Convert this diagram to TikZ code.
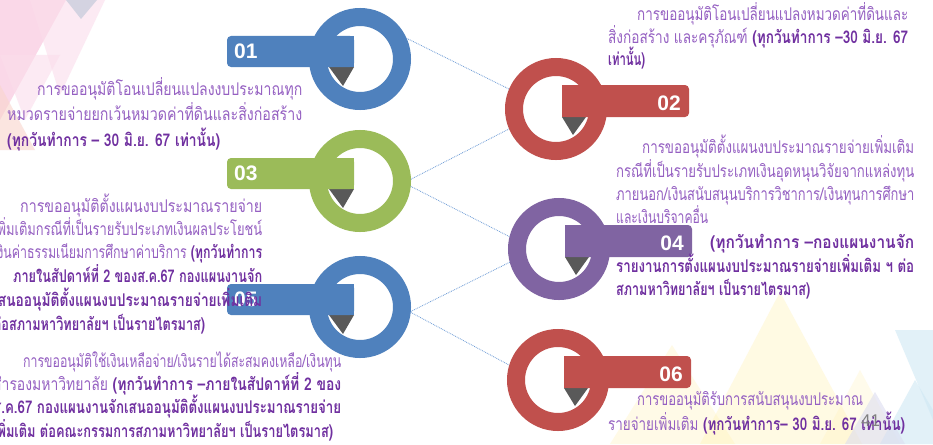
\documentclass[tikz,border=0pt]{standalone}
\usepackage{fontspec}
\usepackage{graphicx}
\newfontfamily\thai[Script=Thai]{Loma}
\newfontfamily\numfont{Liberation Sans}
\definecolor{cblue}{HTML}{4F81BD}
\definecolor{cred}{HTML}{C0504D}
\definecolor{cgreen}{HTML}{9BBB59}
\definecolor{cpurple}{HTML}{8064A2}
\definecolor{cwedge}{HTML}{595959}
\definecolor{ctext}{HTML}{9560C2}
\definecolor{cbold}{HTML}{7030A0}
\definecolor{cline}{HTML}{6C9BD6}
\definecolor{bgpink}{HTML}{F7BEDA}
\definecolor{bgpinkl}{HTML}{FBDDEB}
\definecolor{bggray}{HTML}{CBCEDD}
\definecolor{bgsalmon}{HTML}{F9D5CC}
\definecolor{bgyellow}{HTML}{FFF1B0}
\definecolor{bgblue}{HTML}{CFE8F4}
\definecolor{bglav}{HTML}{DCDDF0}
\tikzset{
 ring/.style={circle, minimum size=84pt, inner sep=0pt, line width=18pt},
 wedge/.style={fill=cwedge},
 num/.style={font=\numfont\bfseries\fontsize{21}{21}\selectfont, text=white, inner sep=0pt},
 txt/.style={font=\thai\fontsize{17.5}{20}\selectfont, text=ctext, inner sep=0pt, anchor=base west},
 conn/.style={draw=cline, densely dotted, line width=0.8pt},
 pagenum/.style={font=\numfont\fontsize{17}{17}\selectfont, text=gray, inner sep=0pt, anchor=base west},
 bgtri/.style={opacity=0.6},
}
\newcommand\fitw[2]{\resizebox{#1pt}{\height}{#2}}
\newcommand\boldpart[1]{{\bfseries\color{cbold}#1}}
\newcommand\ringL[5]{%
 \begin{scope}[shift={(#2,#3)}]
 \node[ring, draw=#4] (#1) at (0,0) {};
 \fill[wedge] (-31,8) -- (-6,8) -- (-17,27) -- cycle;
 \fill[#4, rounded corners=4pt] (-133,-23) rectangle (-6,8);
 \fill[#4] (-20,-23) rectangle (-6,8);
 \node[num, anchor=west] (#1n) at (-126,-7.5) {#5};
 \end{scope}}
\newcommand\ringR[5]{%
 \begin{scope}[shift={(#2,#3)}]
 \node[ring, draw=#4] (#1) at (0,0) {};
 \fill[wedge] (6,8) -- (30,8) -- (17,26) -- cycle;
 \fill[#4, rounded corners=4pt] (6,-24) rectangle (133,8);
 \fill[#4] (6,-24) rectangle (20,8);
 \node[num, anchor=east] (#1n) at (125,-6) {#5};
 \end{scope}}
\begin{document}
\begin{tikzpicture}[x=1pt,y=-1pt]
\useasboundingbox (0,0) rectangle (933,444);
\begin{scope}
\clip (0,0) rectangle (933,444);
\fill[white] (0,0) rectangle (933,444);
% background triangles, top left
\fill[bgpink, bgtri] (0,0) -- (66,0) -- (0,120) -- cycle;
\fill[bgpinkl, bgtri] (30,0) -- (105,0) -- (60,95) -- cycle;
\fill[bggray, opacity=0.8] (66,0) -- (97,0) -- (81,19) -- cycle;
\fill[bgpinkl, bgtri] (0,55) -- (60,55) -- (25,120) -- cycle;
\fill[bgsalmon, bgtri] (0,85) -- (35,150) -- (0,150) -- cycle;
% background triangles, bottom right
\fill[bgyellow, opacity=0.35] (700,444) -- (780,292) -- (862,444) -- cycle;
\fill[bgyellow, opacity=0.3] (610,444) -- (672,345) -- (735,444) -- cycle;
\fill[bgyellow, opacity=0.25] (820,444) -- (860,370) -- (900,444) -- cycle;
\fill[bgblue, opacity=0.6] (895,330) -- (933,330) -- (933,420) -- cycle;
\fill[bgblue, opacity=0.6] (880,444) -- (915,380) -- (933,410) -- (933,444) -- cycle;
\fill[bglav, opacity=0.6] (845,444) -- (875,392) -- (905,444) -- cycle;
% rings
\ringL{r1}{360}{59}{cblue}{01}
\ringL{r3}{360}{181}{cgreen}{03}
\ringL{r5}{360}{307}{cblue}{05}
\ringR{r2}{556}{109}{cred}{02}
\ringR{r4}{559}{249}{cpurple}{04}
\ringR{r6}{558}{380}{cred}{06}
% connectors
\draw[conn] (r1.24) -- (r2.157);
\draw[conn] (r3.2) -- (r2.203);
\draw[conn] (r3.-6) -- (r4.166);
\draw[conn] (r5.-5) -- (r4.195);
\draw[conn] (r5.-6) -- (r6.163);
% block 01
\node[txt] (a1) at (37,95) {\fitw{265}{การขออนุมัติโอนเปลี่ยนแปลงงบประมาณทุก}};
\node[txt] (a2) at (7,120) {\fitw{295}{หมวดรายจ่ายยกเว้นหมวดค่าที่ดินและสิ่งก่อสร้าง}};
\node[txt] (a3) at (7,146) {\fitw{213}{\boldpart{(ทุกวันทำการ – 30 มิ.ย. 67 เท่านั้น)}}};
% block 03
\node[txt] (c1) at (20,212) {\fitw{242}{การขออนุมัติตั้งแผนงบประมาณรายจ่าย}};
\node[txt] (c2) at (-7,235) {\fitw{269}{เพิ่มเติมกรณีที่เป็นรายรับประเภทเงินผลประโยชน์}};
\node[txt] (c3) at (-7,258) {\fitw{269}{เงินค่าธรรมเนียมการศึกษาค่าบริการ \boldpart{(ทุกวันทำการ}}};
\node[txt] (c4) at (13,282) {\fitw{249}{\boldpart{ภายในสัปดาห์ที่ 2 ของส.ค.67 กองแผนงานจัก}}};
\node[txt] (c5) at (-7,306) {\fitw{269}{\boldpart{เสนออนุมัติตั้งแผนงบประมาณรายจ่ายเพิ่มเติม}}};
\node[txt] (c6) at (-7,330) {\fitw{212}{\boldpart{ต่อสภามหาวิทยาลัยฯ เป็นรายไตรมาส)}}};
% block 05
\node[txt] (e1) at (23,367) {\fitw{318}{การขออนุมัติใช้เงินเหลือจ่าย/เงินรายได้สะสมคงเหลือ/เงินทุน}};
\node[txt] (e2) at (-7,390) {\fitw{348}{สำรองมหาวิทยาลัย \boldpart{(ทุกวันทำการ –ภายในสัปดาห์ที่ 2 ของ}}};
\node[txt] (e3) at (-7,413) {\fitw{348}{\boldpart{ส.ค.67 กองแผนงานจักเสนออนุมัติตั้งแผนงบประมาณรายจ่าย}}};
\node[txt] (e4) at (-7,437) {\fitw{340}{\boldpart{เพิ่มเติม ต่อคณะกรรมการสภามหาวิทยาลัยฯ เป็นรายไตรมาส)}}};
% block 02
\node[txt] (b1) at (637,20) {\fitw{271}{การขออนุมัติโอนเปลี่ยนแปลงหมวดค่าที่ดินและ}};
\node[txt] (b2) at (608,43) {\fitw{300}{สิ่งก่อสร้าง และครุภัณฑ์ \boldpart{(ทุกวันทำการ –30 มิ.ย. 67}}};
\node[txt] (b3) at (608,65) {\fitw{37}{\boldpart{เท่านั้น)}}};
% block 04
\node[txt] (d1) at (642,153) {\fitw{272}{การขออนุมัติตั้งแผนงบประมาณรายจ่ายเพิ่มเติม}};
\node[txt] (d2) at (616,177) {\fitw{298}{กรณีที่เป็นรายรับประเภทเงินอุดหนุนวิจัยจากแหล่งทุน}};
\node[txt] (d3) at (616,200) {\fitw{298}{ภายนอก/เงินสนับสนุนบริการวิชาการ/เงินทุนการศึกษา}};
\node[txt] (d4) at (616,223) {\fitw{92}{และเงินบริจาคอื่น}};
\node[txt] (d5) at (710,248) {\fitw{204}{\boldpart{(ทุกวันทำการ –กองแผนงานจัก}}};
\node[txt] (d6) at (616,272) {\fitw{298}{\boldpart{รายงานการตั้งแผนงบประมาณรายจ่ายเพิ่มเติม ฯ ต่อ}}};
\node[txt] (d7) at (616,295) {\fitw{194}{\boldpart{สภามหาวิทยาลัยฯ เป็นรายไตรมาส)}}};
% block 06
\node[txt] (f1) at (637,405) {\fitw{226}{การขออนุมัติรับการสนับสนุนงบประมาณ}};
\node[txt] (f2) at (608,430) {\fitw{297}{รายจ่ายเพิ่มเติม \boldpart{(ทุกวันทำการ– 30 มิ.ย. 67 เท่านั้น)}}};
% page number
\node[pagenum] (pg) at (861,426) {41};
\end{scope}
\end{tikzpicture}
\end{document}
